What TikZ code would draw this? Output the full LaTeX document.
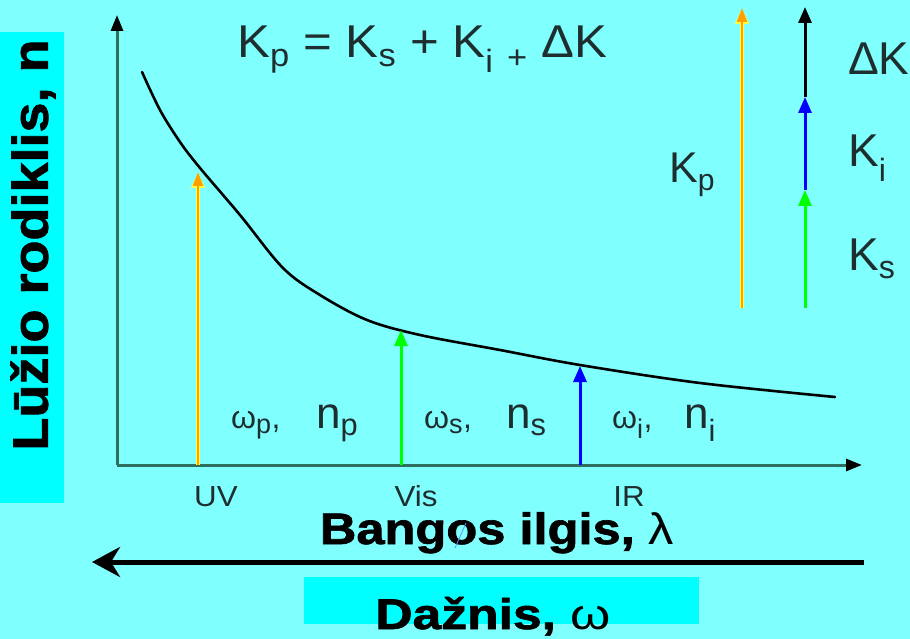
\documentclass[tikz,border=0pt]{standalone}
\usepackage{fontspec}
\usepackage{graphicx}
\setmainfont{Liberation Sans}[BoldFeatures={FakeBold=1.5}]
\usetikzlibrary{arrows.meta}
\definecolor{bg}{HTML}{80FFFF}
\definecolor{boxc}{HTML}{00FFFF}
\definecolor{axisc}{HTML}{2F6F60}
\definecolor{txt}{HTML}{1E2E2E}
\definecolor{orng}{HTML}{FFA000}
\definecolor{ylw}{HTML}{FFFF40}
\definecolor{grn}{HTML}{00FF00}
\definecolor{blu}{HTML}{0000FF}
\definecolor{slash}{HTML}{6090FF}
\newcommand\hs[2]{\scalebox{#1}[1]{#2}}
\newcommand\fs[1]{\fontsize{#1}{#1}\selectfont}
\begin{document}
\begin{tikzpicture}[x=1pt,y=-1pt,
  lbl/.style={inner sep=0pt, text=txt},
  bigbold/.style={inner sep=0pt, text=black, font=\bfseries},
  axisline/.style={axisc, line width=3pt, -{Triangle[length=16pt,width=12pt,color=black]}},
  halo/.style={ylw, line width=4pt, -{Triangle[length=16pt,width=13pt]}},
  orngarrow/.style={orng, line width=2.5pt, -{Triangle[length=14pt,width=10pt]}},
  grnarrow/.style={grn, line width=3pt, -{Triangle[length=16pt,width=13pt]}},
  bluarrow/.style={blu, line width=3pt, -{Triangle[length=16pt,width=13pt]}},
  blkarrow/.style={black, line width=3pt, -{Triangle[length=16pt,width=13pt]}},
  curve/.style={black, line width=2.6pt, line cap=round, line join=round}
]
\fill[bg] (0,0) rectangle (910,639);
\useasboundingbox (0,0) rectangle (910,639);

% left label box
\fill[boxc] (0,32) rectangle (64,503);
\node[bigbold, rotate=90] (ylab) at (33,245) {\fs{50}\hs{1.08}{Lūžio rodiklis, n}};

% axes
\coordinate (O) at (117,465);
\coordinate (ytop) at (117,15);
\coordinate (xend) at (862,465);
\draw[axisline] (O) -- (ytop);
\draw[axisline] (O) -- (xend);

% dispersion curve
\draw[curve] plot[smooth, tension=0.55] coordinates {(142,72) (160,110) (180,142) (200,168) (240,215) (283,268) (320,295) (367,320) (420,335) (500,350) (580,365) (700,383) (835,397)};

% arrows from axis to curve
\coordinate (uv0) at (198,465);
\coordinate (uv1) at (198,172);
\coordinate (vis0) at (401,465);
\coordinate (vis1) at (401,330);
\coordinate (ir0) at (580,465);
\coordinate (ir1) at (580,366);
\draw[halo] (uv0) -- (uv1);
\draw[orngarrow] (uv0) -- (uv1);
\draw[grnarrow] (vis0) -- (vis1);
\draw[bluarrow] (ir0) -- (ir1);

% right vectors
\coordinate (kp0) at (742,308);
\coordinate (kp1) at (742,8);
\draw[halo] (kp0) -- (kp1);
\draw[orngarrow] (kp0) -- (kp1);
\coordinate (s0) at (805,308);
\coordinate (s1) at (805,190);
\coordinate (s2) at (805,97);
\coordinate (s3) at (805,7);
\draw[grnarrow] (s0) -- (s1);
\draw[bluarrow] (s1) -- (s2);
\draw[blkarrow] (s2) -- (s3);

% equation
\node[lbl, anchor=base west] (eq) at (237,58) {\fs{46}\hs{1.07}{K\textsubscript{p} = K\textsubscript{s} + K\textsubscript{i} \textsubscript{+} ΔK}};

% right labels
\node[lbl, anchor=base west] (lkp) at (669,183) {\fs{43}K\textsubscript{p}};
\node[lbl, anchor=base west] (ldk) at (848,75) {\fs{46}ΔK};
\node[lbl, anchor=base west] (lki) at (848,167) {\fs{46}K\textsubscript{i}};
\node[lbl, anchor=base west] (lks) at (848,270) {\fs{46}K\textsubscript{s}};

% region labels
\node[lbl, anchor=base west] (lpw) at (231,428) {\fs{32}ω\textsubscript{\fs{27}p},};
\node[lbl, anchor=base west] (lpn) at (316,428) {\fs{44}n\textsubscript{p}};
\node[lbl, anchor=base west] (lsw) at (424,428) {\fs{32}ω\textsubscript{\fs{27}s},};
\node[lbl, anchor=base west] (lsn) at (506,428) {\fs{44}n\textsubscript{s}};
\node[lbl, anchor=base west] (liw) at (612,428) {\fs{32}ω\textsubscript{\fs{27}i},};
\node[lbl, anchor=base west] (lin) at (684,428) {\fs{44}n\textsubscript{i}};

% tick labels
\node[lbl, anchor=base] (tuv) at (216,506) {\fs{29}\hs{1.08}{UV}};
\node[lbl, anchor=base] (tvis) at (416,506) {\fs{29}\hs{1.08}{Vis}};
\node[lbl, anchor=base] (tir) at (629,506) {\fs{29}\hs{1.08}{IR}};

% wavelength label
\node[bigbold, anchor=base] (wl) at (497,544) {\fs{44}\hs{1.15}{Bangos ilgis, \mdseries λ}};
\coordinate (sl0) at (455,548);
\coordinate (sl1) at (466,523);
\draw[slash, line width=0.8pt] (sl0) -- (sl1);

% frequency arrow
\coordinate (fa0) at (864,562);
\coordinate (fa1) at (92,562);
\draw[black, line width=5pt, -{Stealth[length=28pt,width=30pt,inset=9pt]}] (fa0) -- (fa1);

% frequency label
\fill[boxc] (304,577) rectangle (699,624);
\node[bigbold, anchor=base] (fr) at (493,629) {\fs{43}\hs{1.2}{Dažnis, \mdseries ω}};
\end{tikzpicture}
\end{document}
